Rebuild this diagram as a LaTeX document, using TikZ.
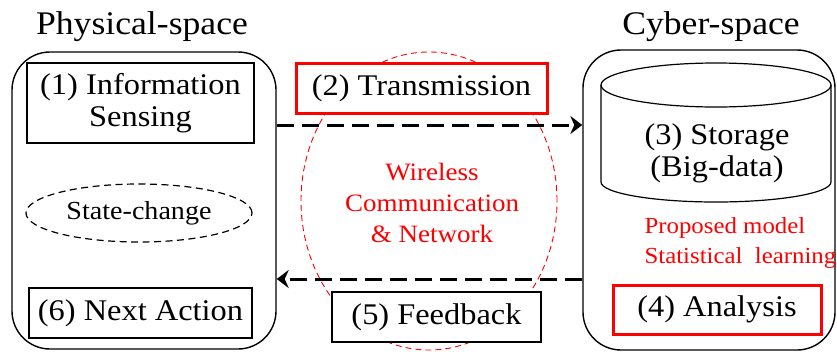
\documentclass[tikz,border=0pt]{standalone}
\usepackage{fontspec}
\setmainfont{Liberation Serif}[FakeStretch=1.08]
\usepackage{tikz}
\usetikzlibrary{arrows.meta,shapes.geometric}
\colorlet{keyred}{red}
\newcommand{\bigsz}{\fontsize{33}{36}\selectfont}
\newcommand{\mainsz}{\fontsize{30}{32}\selectfont}
\newcommand{\redsz}{\fontsize{25}{31}\selectfont}
\newcommand{\notesz}{\fontsize{23}{30}\selectfont}

\begin{document}
\begin{tikzpicture}[x=1pt, y=1pt,
    space/.style={draw, line width=1.4pt, rounded corners=38pt, inner sep=0},
    stepbox/.style={draw, fill=white, line width=1.2pt, inner sep=0, font=\mainsz, align=center},
    keybox/.style={stepbox, draw=keyred, line width=3pt},
    flow/.style={line width=3pt, dash pattern=on 17pt off 8pt, -{Stealth[length=12pt,width=18pt,inset=4pt]}},
    redtext/.style={text=keyred, align=center}]
  \useasboundingbox (0,0) rectangle (837,-351);
  % Spaces
  \node[font=\bigsz] (physT) at (142,-27) {Physical-space};
  \node[font=\bigsz] (cyberT) at (711,-27) {Cyber-space};
  \node[space, minimum width=264pt, minimum height=297pt] (phys) at (144,-200.5) {};
  \node[space, minimum width=252pt, minimum height=300pt] (cyber) at (709,-200) {};
  % Wireless link
  \node[ellipse, draw=keyred, line width=0.9pt, dash pattern=on 6pt off 4pt, minimum width=256pt, minimum height=298pt, inner sep=0] (wire) at (429,-201) {};
  \node[redtext, font=\redsz] (wireT) at (432,-203) {Wireless\\Communication\\\& Network};
  % Data flow
  \coordinate (upper) at (0,-125);
  \coordinate (lower) at (0,-279);
  \draw[flow] (phys.east |- upper) -- (cyber.west |- upper);
  \draw[flow] (cyber.west |- lower) -- (phys.east |- lower);
  % Physical side
  \node[stepbox, minimum width=227pt, minimum height=80pt] (sense) at (140.5,-103) {(1) Information\\Sensing};
  \node[ellipse, draw, line width=1.2pt, dash pattern=on 7pt off 4.5pt, inner sep=0, minimum width=226pt, minimum height=58pt, font=\fontsize{26}{28}\selectfont] (state) at (139,-213) {State-change};
  \node[stepbox, minimum width=223pt, minimum height=50pt] (next) at (140.5,-313) {(6) Next Action};
  % Link boxes
  \node[keybox, minimum width=251pt, minimum height=50pt] (trans) at (421.5,-88) {(2) Transmission};
  \node[stepbox, minimum width=209pt, minimum height=50pt] (feed) at (436.5,-317) {(5) Feedback};
  % Cyber side
  \draw[line width=1.2pt] (601,-85) -- (601,-182) arc[start angle=180, end angle=360, x radius=115, y radius=20] -- (831,-85);
  \draw[line width=1.2pt] (716,-85) ellipse[x radius=115, y radius=22];
  \node[font=\mainsz, align=center] (store) at (717,-153) {(3) Storage\\(Big-data)};
  \node[redtext, align=left, anchor=west, font=\notesz] (model) at (641,-243) {Proposed model\\Statistical~~learning};
  \node[keybox, minimum width=208pt, minimum height=49pt] (anal) at (717,-309.5) {(4) Analysis};
\end{tikzpicture}
\end{document}
